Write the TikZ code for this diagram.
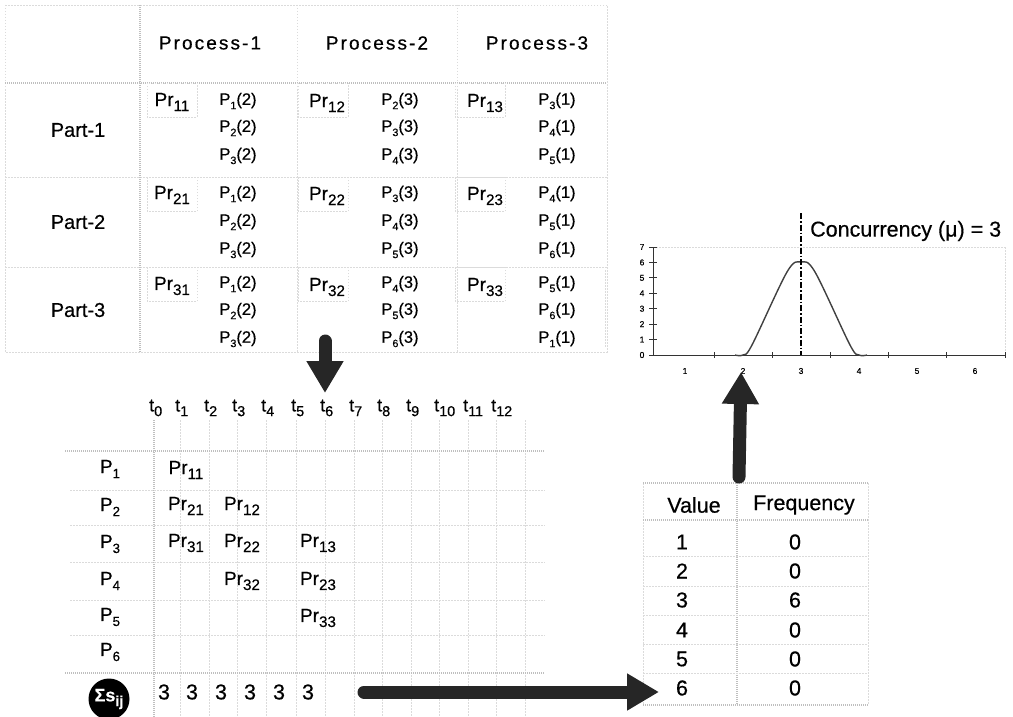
\documentclass[tikz,border=0pt]{standalone}
\usepackage{fontspec}
\setmainfont{Liberation Sans}[FakeBold=0.5]
\usetikzlibrary{arrows.meta}
\newcommand\lo[2][0.8]{\raisebox{-0.5ex}{\scalebox{#1}{#2}}}
\tikzset{
  lgrid/.style={gray!28, dash pattern=on 1.5pt off 1.5pt, line width=0.7pt},
  dgrid/.style={gray!50, dash pattern=on 1pt off 1pt, line width=1.3pt},
  hdr/.style={font=\fontsize{19}{21}\selectfont\addfontfeatures{LetterSpace=11}, inner sep=0pt},
  partl/.style={font=\fontsize{20}{22}\selectfont, inner sep=0pt},
  prl/.style={font=\fontsize{19}{21}\selectfont, inner sep=0pt},
  pe/.style={font=\fontsize{16.5}{18}\selectfont, inner sep=0pt},
  tl/.style={font=\fontsize{18}{20}\selectfont, inner sep=0pt},
  plab/.style={font=\fontsize{19}{21}\selectfont, inner sep=0pt},
  vt/.style={font=\fontsize{21.5}{23}\selectfont, inner sep=0pt},
  axl/.style={font=\fontsize{8.5}{9}\selectfont, inner sep=0pt},
  bigarrow/.style={line width=13pt, line cap=round, black!85, -{Triangle[length=32pt,width=35pt]}},
}
\begin{document}
\begin{tikzpicture}[x=1pt,y=-1pt]
\useasboundingbox (0,0) rectangle (1013,717);
% ---------- top table ----------
\draw[lgrid] (5,5) rectangle (607,352);
\draw[dgrid] (5,83) -- (607,83);
\draw[lgrid] (5,177) -- (607,177);
\draw[lgrid] (5,267) -- (607,267);
\draw[dgrid] (140,5) -- (140,352);
\draw[lgrid] (297,5) -- (297,352);
\draw[lgrid] (457,5) -- (457,352);
\foreach \x in {147,298,455}{
  \foreach \y in {83,177,267}{
    \draw[lgrid] (\x,\y) rectangle (\x+50,\y+34);
  }
}
\node[hdr] (h1) at (210,43) {Process-1};
\node[hdr] (h2) at (377,43) {Process-2};
\node[hdr] (h3) at (537,43) {Process-3};
\node[partl] (part1) at (78,130) {Part-1};
\node[partl] (part2) at (78,222) {Part-2};
\node[partl] (part3) at (78,310) {Part-3};
\foreach \n/\x/\y in {11/172/102,12/327/103,13/485/103,21/172/195,22/327/196,23/485/196,31/172/286,32/327/287,33/485/287}{
  \node[prl] (pr\n) at (\x,\y) {Pr\lo{\n}};
}
\foreach \x/\y/\k/\d [count=\c] in {
  238/101/1/2, 238/128/2/2, 238/156/3/2,
  238/194/1/2, 238/222/2/2, 238/250/3/2,
  238/284/1/2, 238/311/2/2, 238/339/3/2,
  400/101/2/3, 400/128/3/3, 400/156/4/3,
  400/194/3/3, 400/222/4/3, 400/250/5/3,
  400/284/4/3, 400/311/5/3, 400/339/6/3,
  557/101/3/1, 557/128/4/1, 557/156/5/1,
  557/194/4/1, 557/222/5/1, 557/250/6/1,
  557/284/5/1, 557/311/6/1, 557/339/1/1}{
  \node[pe] (pe\c) at (\x,\y) {P\lo[0.65]{\k}(\d)};
}
% ---------- schedule grid ----------
\foreach \x in {180,209,237,266,296,325,354,382,411,439,468,496,525}{
  \draw[lgrid] (\x,420) -- (\x,717);
}
\draw[dgrid] (154,420) -- (154,717);
\draw[dgrid] (65,451) -- (545,451);
\draw[dgrid] (65,673) -- (545,673);
\foreach \y in {490,525,562,600,635}{
  \draw[lgrid] (70,\y) -- (545,\y);
}
\foreach \i/\x in {0/154,1/180,2/209,3/237,4/266,5/296,6/325,7/354,8/382,9/411,10/439,11/468,12/496}{
  \node[tl, anchor=west] (t\i) at (\x-5,408) {t\lo{\i}};
}
\foreach \i/\y in {1/469,2/507,3/544,4/581,5/617,6/652}{
  \node[plab] (P\i) at (110,\y) {P\lo[0.7]{\i}};
}
\foreach \n/\x/\y in {11/186/470,21/186/506,12/242/506,31/186/543,22/242/543,13/318/543,32/242/581,23/318/581,33/318/618}{
  \node[prl] (s\n) at (\x,\y) {Pr\lo{\n}};
}
\foreach \x [count=\c] in {164,192,221,250,279,308}{
  \node[vt] (sum\c) at (\x,692) {3};
}
\node[circle, fill=black, minimum size=41pt, inner sep=0pt, text=white,
      font=\bfseries\fontsize{18}{19}\selectfont] (sig) at (109,699) {Σs\lo{ij}};
% ---------- value table ----------
\draw[lgrid] (643,483) -- (643,705);
\draw[lgrid] (868,483) -- (868,705);
\draw[dgrid] (643,483) -- (868,483);
\draw[dgrid] (643,520) -- (868,520);
\draw[dgrid] (643,705) -- (868,705);
\draw[dgrid] (737,483) -- (737,705);
\foreach \y in {556,586,615,644,673}{
  \draw[lgrid] (643,\y) -- (868,\y);
}
\node[vt] (vh) at (694,505) {Value};
\node[vt] (fh) at (804,505) {Frequency};
\foreach \v/\f/\y in {1/0/542,2/0/571,3/6/600,4/0/630,5/0/659,6/0/688}{
  \node[vt] (v\v) at (682,\y) {\v};
  \node[vt] (f\v) at (795,\y) {\f};
}
% ---------- chart ----------
\draw[lgrid] (605,270) -- (605,347);
\draw[lgrid] (653,247) -- (1005,247);
\draw[lgrid] (1005,247) -- (1005,355);
\draw[line width=0.9pt, black!80] (653,247) -- (653,355) -- (1005,355);
\foreach \k in {0,...,7}{
  \draw[line width=0.8pt, black!80] (649,355-15.43*\k) -- (657,355-15.43*\k);
  \node[axl] (yl\k) at (642,355-15.43*\k) {\k};
}
\foreach \x in {714,772,830,888,946,1005}{
  \draw[line width=0.8pt, black!80] (\x,352) -- (\x,358);
}
\foreach \k in {1,...,6}{
  \node[axl] (xl\k) at (685+58*\k-58,371) {\k};
}
\draw[line width=1.4pt, black!75] plot[smooth, tension=0.55] coordinates
  {(735,355) (743,355) (752,345) (787,272) (801,262) (815,272) (850,345) (859,355) (867,355)};
\coordinate (mutop) at (801,213);
\coordinate (mubot) at (801,355);
\draw[line width=1.6pt, black, dash pattern=on 6pt off 2pt on 1.5pt off 2pt] (mutop) -- (mubot);
\node[font=\fontsize{21.5}{23}\selectfont, inner sep=0pt, anchor=west] (conc) at (810,231) {Concurrency (μ) = 3};
% ---------- arrows ----------
\coordinate (a1s) at (325,341);
\coordinate (a1e) at (325,393);
\draw[bigarrow] (a1s) -- (a1e);
\coordinate (a2s) at (364,692);
\coordinate (a2e) at (659,692);
\draw[bigarrow] (a2s) -- (a2e);
\coordinate (a3s) at (739,477);
\coordinate (a3e) at (741,372);
\draw[bigarrow] (a3s) -- (a3e);
\end{tikzpicture}
\end{document}
